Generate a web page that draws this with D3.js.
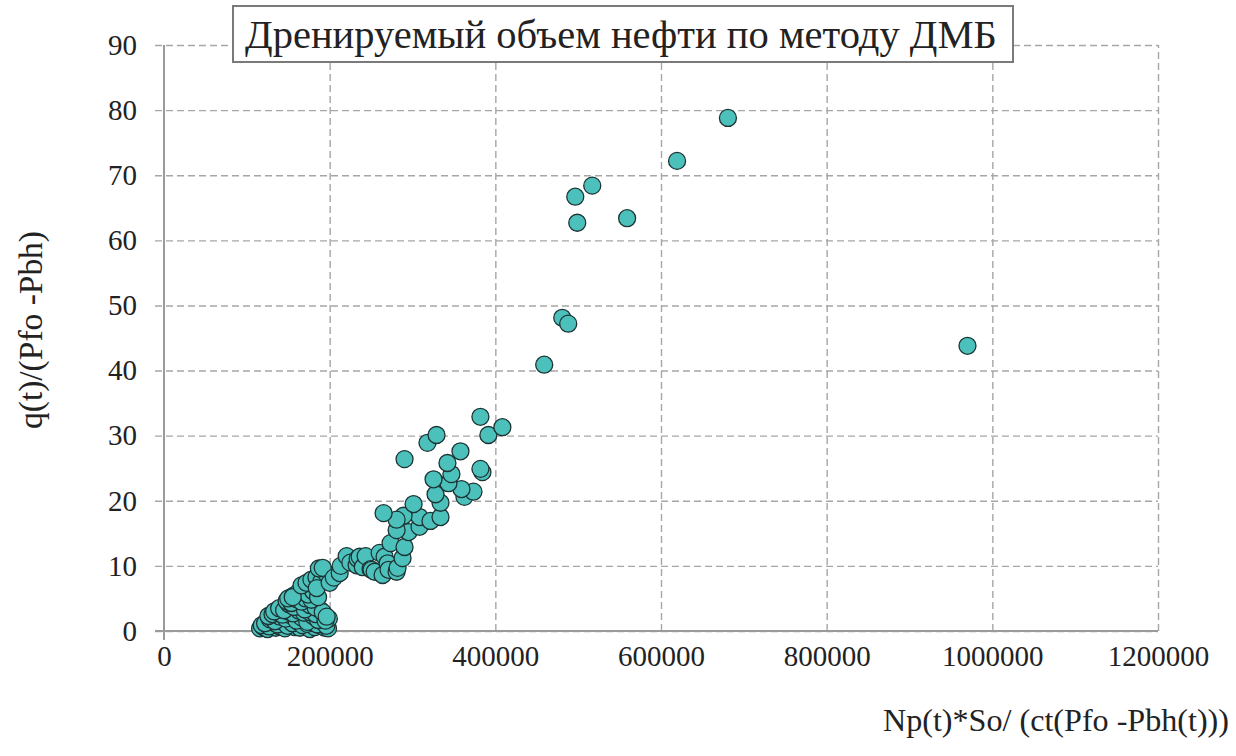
<!DOCTYPE html>
<html>
<head>
<meta charset="utf-8">
<script src="https://cdn.jsdelivr.net/npm/d3@7"></script>
<style>
  body { margin: 0; background: #fff; }
  svg { display: block; }
  svg text { font-family: "Liberation Serif", "Times New Roman", Tinos, "Noto Serif", "DejaVu Serif", FreeSerif, serif; }
  .grid line { stroke: #a6a6a6; stroke-width: 1.4; stroke-dasharray: 7 4; }
  .grid path { display: none; }
  .tick text { fill: #222; }
</style>
</head>
<body>
<svg width="1236" height="756"></svg>
<script>
// chart texts
const title = "Дренируемый объем нефти по методу ДМБ";
const xTitle = "Np(t)*So/ (ct(Pfo -Pbh(t)))";
const yTitle = "q(t)/(Pfo -Pbh)";

// tick values
const xTicks = [0, 200000, 400000, 600000, 800000, 1000000, 1200000];
const yTicks = [0, 10, 20, 30, 40, 50, 60, 70, 80, 90];

// dense low cluster near 120000..200000
const clusterX = [116000, 120000, 125000, 130000, 135000, 140000, 146000, 152000, 158000, 164000, 170000, 176000, 182000, 188000, 194000, 198000,
  118000, 123000, 127000, 132000, 137000, 143000, 149000, 155000, 161000, 167000, 173000, 179000, 185000, 191000, 196000,
  122000, 128000, 134000, 140000, 147000, 153000, 160000, 166000, 173000, 180000, 186000, 193000, 199000,
  126000, 131000, 137000, 143000, 150000, 156000, 163000, 169000, 176000, 183000, 189000, 195000,
  133000, 139000, 145000, 151000, 157000, 163000, 170000, 176000, 183000, 191600, 196400,
  148000, 154000, 160000, 166000, 171000, 178000,
  150000, 156000, 162000, 168000, 174000, 180000, 186000, 155400,
  166000, 172000, 178000, 184000, 190000, 196000, 184400,
  187000, 191600];
const clusterY = [0.4, 0.6, 0.3, 0.8, 0.5, 0.7, 0.4, 0.9, 0.6, 0.5, 0.8, 0.3, 0.6, 0.9, 0.5, 0.4,
  0.9, 1.1, 0.7, 1.3, 1.0, 1.4, 0.8, 1.2, 1.5, 0.9, 1.1, 1.3, 1.0, 1.4, 0.8,
  1.2, 1.8, 1.5, 2.2, 1.9, 2.4, 1.6, 2.1, 1.4, 2.3, 1.7, 2.6, 1.9,
  2.3, 2.6, 2.9, 2.5, 3.0, 2.7, 3.1, 2.8, 2.9, 2.6, 3.2, 1.6,
  3.0, 3.5, 3.2, 4.1, 3.7, 4.4, 3.3, 4.0, 3.6, 2.9, 2.2,
  4.6, 4.3, 4.9, 4.5, 5.0, 4.8,
  5.0, 5.4, 5.9, 6.3, 5.6, 6.1, 5.2, 5.2,
  7.0, 7.4, 7.9, 8.3, 7.6, 8.8, 6.6,
  9.6, 9.7];

// main band 200000..410000
const bandX = [200000, 205000, 212100, 213300, 220500, 225000, 232600, 233800, 236200, 240000, 243400, 249400, 250600, 254300,
  260300, 263900, 266300, 269900, 271100, 280800, 282000, 288000, 273500, 290400, 295200, 280800,
  308500, 308500, 321700, 333800, 289200, 280800, 265100, 301300, 333800, 327800, 362700, 373600,
  359100, 343400, 325400, 347000, 384400, 382000, 342200, 357900, 290400, 318100, 329000, 382000,
  391600, 408500];
const bandY = [7.4, 8.2, 8.9, 10.0, 11.5, 10.5, 10.1, 11.1, 11.4, 9.8, 11.5, 9.5, 9.4, 9.1,
  12.0, 8.6, 11.4, 10.4, 9.4, 9.1, 9.7, 11.2, 13.5, 12.9, 15.2, 15.5,
  16.0, 17.5, 16.9, 17.5, 17.7, 17.1, 18.1, 19.5, 19.7, 21.0, 20.6, 21.4,
  21.8, 22.7, 23.3, 24.1, 24.4, 24.9, 25.8, 27.6, 26.4, 28.9, 30.1, 32.9,
  30.1, 31.3];

// sparse upper points
const upperX = [459000, 480800, 488000, 496500, 498900, 517000, 559100, 619400, 680800, 970000];
const upperY = [40.9, 48.1, 47.2, 66.7, 62.7, 68.4, 63.4, 72.2, 78.8, 43.8];

const points = []
  .concat(clusterX.map((x, i) => ({ x: x, y: clusterY[i] })))
  .concat(bandX.map((x, i) => ({ x: x, y: bandY[i] })))
  .concat(upperX.map((x, i) => ({ x: x, y: upperY[i] })));

const svg = d3.select('svg');

const plotLeft = 164, plotRight = 1158, plotTop = 45, plotBottom = 631;

const x = d3.scaleLinear().domain([0, 1200000]).range([plotLeft, plotRight]);
const y = d3.scaleLinear().domain([0, 90]).range([plotBottom, plotTop]);

// fit a text element to a target width by adjusting its font size
function fitWidth(sel, size, width) {
  sel.style('font-size', size + 'px');
  const w = sel.node().getComputedTextLength();
  if (w > 0) sel.style('font-size', (size * width / w).toFixed(2) + 'px');
}

// horizontal grid
const gy = svg.append('g')
  .attr('class', 'grid')
  .attr('transform', `translate(${plotLeft},0)`)
  .call(d3.axisLeft(y).tickValues(yTicks).tickSize(-(plotRight - plotLeft)).tickFormat(''));
gy.selectAll('line').attr('x1', -9);

// vertical grid
svg.append('g')
  .attr('class', 'grid')
  .attr('transform', `translate(0,${plotBottom})`)
  .call(d3.axisBottom(x).tickValues(xTicks.slice(1)).tickSize(-(plotBottom - plotTop)).tickFormat(''));

// axis lines
svg.append('line')
  .attr('x1', plotLeft).attr('x2', plotLeft)
  .attr('y1', plotTop).attr('y2', plotBottom + 9)
  .attr('stroke', '#9a9a9a').attr('stroke-width', 2);
svg.append('line')
  .attr('x1', plotLeft - 9).attr('x2', plotRight)
  .attr('y1', plotBottom).attr('y2', plotBottom)
  .attr('stroke', '#9a9a9a').attr('stroke-width', 2);

// tick labels
const yAxis = svg.append('g')
  .attr('transform', `translate(${plotLeft},0)`)
  .call(d3.axisLeft(y).tickValues(yTicks).tickSize(0).tickPadding(27));
yAxis.select('.domain').remove();
yAxis.attr('font-family', null).attr('font-size', null);
yAxis.selectAll('text').style('font-size', '29px');

const xAxis = svg.append('g')
  .attr('transform', `translate(0,${plotBottom})`)
  .call(d3.axisBottom(x).tickValues(xTicks).tickSize(0).tickPadding(14).tickFormat(d3.format('d')));
xAxis.select('.domain').remove();
xAxis.attr('font-family', null).attr('font-size', null);
xAxis.selectAll('text').style('font-size', '29px');

// points
svg.append('g')
  .selectAll('circle')
  .data(points)
  .join('circle')
  .attr('cx', d => x(d.x))
  .attr('cy', d => y(d.y))
  .attr('r', 8.5)
  .attr('fill', '#4cc1bc')
  .attr('stroke', '#1c3434')
  .attr('stroke-width', 1.3);

// title box
svg.append('rect')
  .attr('x', 233).attr('y', 6)
  .attr('width', 780).attr('height', 56)
  .attr('fill', '#fff')
  .attr('stroke', '#7a7a7a')
  .attr('stroke-width', 2);
const titleText = svg.append('text')
  .attr('x', 245).attr('y', 48)
  .attr('fill', '#222')
  .text(title);
fitWidth(titleText, 35, 752);

// axis titles
const yTitleText = svg.append('text')
  .attr('transform', 'translate(42,330) rotate(-90)')
  .attr('text-anchor', 'middle')
  .attr('fill', '#222')
  .text(yTitle);
fitWidth(yTitleText, 26, 198);
const xTitleText = svg.append('text')
  .attr('x', 883).attr('y', 731)
  .attr('fill', '#222')
  .text(xTitle);
fitWidth(xTitleText, 27, 346);
</script>
</body>
</html>
